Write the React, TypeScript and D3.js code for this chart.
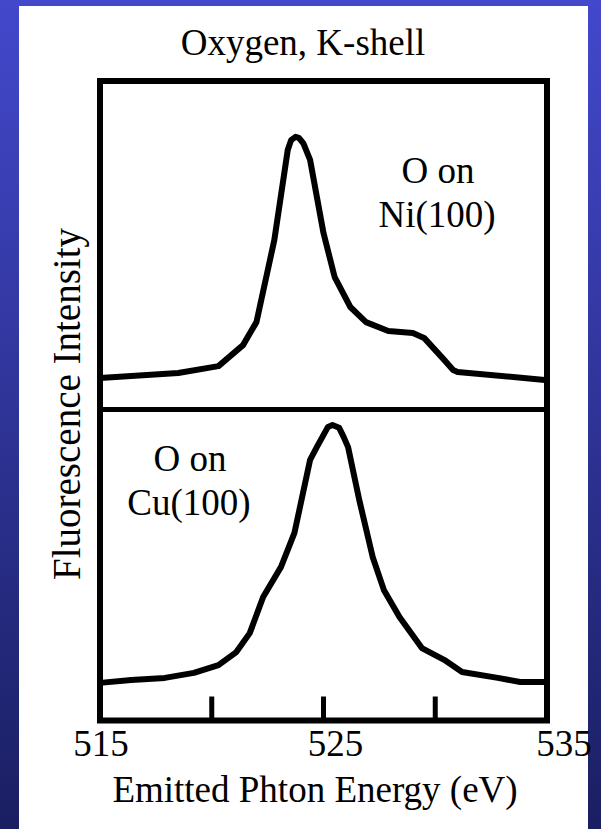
import React, { useEffect, useRef } from "react";
import * as d3 from "d3";

// O on Ni(100), upper panel
const niEnergy = [515.0, 518.5, 520.3, 521.4, 522.0, 522.8, 523.4, 523.55, 523.75, 523.9, 524.1, 524.4, 525.0, 525.5, 526.2, 526.9, 527.9, 529.0, 529.5, 530.4, 530.8, 531.0, 534.9];
const niIntensity = [0.096, 0.111, 0.132, 0.196, 0.266, 0.516, 0.79, 0.82, 0.83, 0.827, 0.81, 0.76, 0.537, 0.403, 0.312, 0.266, 0.239, 0.233, 0.218, 0.151, 0.12, 0.114, 0.09];

// O on Cu(100), lower panel
const cuEnergy = [515.0, 516.4, 517.9, 519.2, 520.3, 521.1, 521.7, 522.3, 523.1, 523.7, 524.4, 524.7, 525.2, 525.4, 525.7, 525.9, 526.1, 526.6, 527.2, 527.7, 528.4, 529.4, 530.4, 531.2, 532.8, 533.8, 534.9];
const cuIntensity = [0.121, 0.13, 0.137, 0.153, 0.178, 0.22, 0.281, 0.397, 0.494, 0.603, 0.838, 0.879, 0.944, 0.95, 0.941, 0.912, 0.879, 0.709, 0.526, 0.42, 0.333, 0.233, 0.195, 0.156, 0.137, 0.124, 0.124];

const tickValues = [520, 525, 530];
const tickLabels = [515, 525, 535];
const tickLabelShift = [1, 12, 17];

const App = () => {
  const ref = useRef<SVGSVGElement>(null);

  useEffect(() => {
    const svg = d3.select(ref.current);
    svg.selectAll("*").remove();

    const width = 601, height = 829;
    const font = "'Liberation Serif', 'DejaVu Serif', serif";

    const defs = svg.append("defs");
    const grad = defs.append("linearGradient")
      .attr("id", "bg").attr("x1", 0).attr("y1", 0).attr("x2", 0).attr("y2", 1);
    grad.append("stop").attr("offset", "0%").attr("stop-color", "#4348cc");
    grad.append("stop").attr("offset", "100%").attr("stop-color", "#1a1f62");

    svg.append("rect").attr("width", width).attr("height", height).attr("fill", "url(#bg)");
    svg.append("rect").attr("x", 19).attr("y", 6).attr("width", 569).attr("height", height - 6).attr("fill", "#fff");

    const x = d3.scaleLinear().domain([515, 535]).range([100, 547]);
    const top = 81, mid = 409.5, bottom = 720.5;
    const yNi = d3.scaleLinear().domain([0, 1]).range([mid, top]);
    const yCu = d3.scaleLinear().domain([0, 1]).range([bottom, mid]);

    const drawCurve = (en: number[], val: number[], y: d3.ScaleLinear<number, number>) => {
      const line = d3.line<number>()
        .x((d, i) => x(en[i]))
        .y(d => y(d));
      svg.append("path")
        .datum(val)
        .attr("fill", "none")
        .attr("stroke", "#000")
        .attr("stroke-width", 6)
        .attr("stroke-linejoin", "round")
        .attr("d", line);
    };
    drawCurve(niEnergy, niIntensity, yNi);
    drawCurve(cuEnergy, cuIntensity, yCu);

    // frame + divider
    svg.append("rect")
      .attr("x", x(515)).attr("y", top)
      .attr("width", x(535) - x(515)).attr("height", bottom - top)
      .attr("fill", "none").attr("stroke", "#000").attr("stroke-width", 6);
    svg.append("line")
      .attr("x1", x(515)).attr("x2", x(535)).attr("y1", mid).attr("y2", mid)
      .attr("stroke", "#000").attr("stroke-width", 5);

    svg.selectAll(".tick")
      .data(tickValues)
      .enter().append("line")
      .attr("x1", d => x(d)).attr("x2", d => x(d))
      .attr("y1", bottom).attr("y2", bottom - 24)
      .attr("stroke", "#000").attr("stroke-width", 5);

    const text = (s: string, tx: number, ty: number, size = 37) =>
      svg.append("text")
        .attr("x", tx).attr("y", ty)
        .attr("text-anchor", "middle")
        .attr("font-family", font)
        .attr("font-size", size)
        .attr("fill", "#000")
        .text(s);

    tickLabels.forEach((t, i) => text(String(t), x(t) + tickLabelShift[i], 756));

    text("Oxygen, K-shell", 303, 55);
    text("Emitted Phton Energy (eV)", 315, 802);
    text("Fluorescence Intensity", 0, 0, 39)
      .attr("transform", "translate(80,404) rotate(-90)");

    text("O on", 438, 183);
    text("Ni(100)", 437, 227);
    text("O on", 190, 471);
    text("Cu(100)", 189, 515);
  }, []);

  return (
    <svg ref={ref} width={601} height={829}
      style={{ position: "absolute", left: 0, top: 0 }} />
  );
};

export default App;
